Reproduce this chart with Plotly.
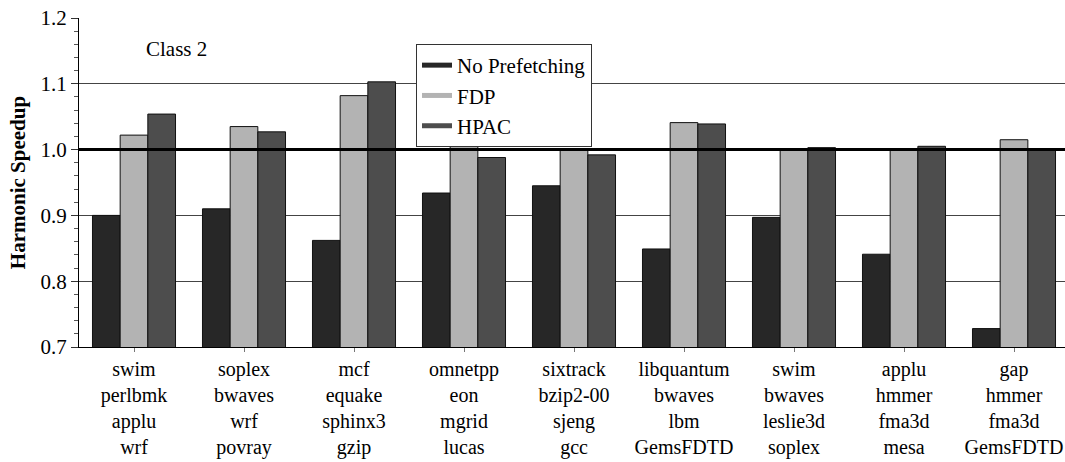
import plotly.graph_objects as go

# Workload mixes (four benchmarks per mix)
mixes = [
    "swim<br>perlbmk<br>applu<br>wrf",
    "soplex<br>bwaves<br>wrf<br>povray",
    "mcf<br>equake<br>sphinx3<br>gzip",
    "omnetpp<br>eon<br>mgrid<br>lucas",
    "sixtrack<br>bzip2-00<br>sjeng<br>gcc",
    "libquantum<br>bwaves<br>lbm<br>GemsFDTD",
    "swim<br>bwaves<br>leslie3d<br>soplex",
    "applu<br>hmmer<br>fma3d<br>mesa",
    "gap<br>hmmer<br>fma3d<br>GemsFDTD",
]

# Harmonic speedup per configuration
no_prefetching = [0.900, 0.910, 0.862, 0.934, 0.945, 0.849, 0.897, 0.841, 0.728]
fdp = [1.022, 1.035, 1.082, 1.012, 1.000, 1.041, 1.000, 1.000, 1.015]
hpac = [1.054, 1.027, 1.103, 0.988, 0.992, 1.039, 1.003, 1.005, 1.000]

y_ticks = [0.7, 0.8, 0.9, 1.0, 1.1, 1.2]

series = [
    ("No Prefetching", no_prefetching, "#272727"),
    ("FDP", fdp, "#b3b3b3"),
    ("HPAC", hpac, "#4d4d4d"),
]

FONT = "Liberation Serif, Times New Roman, serif"

fig = go.Figure()
x_idx = list(range(len(mixes)))
for name, vals, color in series:
    fig.add_trace(go.Bar(
        x=x_idx, y=vals, name=name, showlegend=False,
        marker=dict(color=color, line=dict(color="#111111", width=1)),
    ))

# Legend entries drawn as short thick strokes
for name, vals, color in series:
    fig.add_trace(go.Scatter(
        x=[None], y=[None], mode="lines", name=name,
        line=dict(color=color, width=5),
    ))

fig.update_layout(
    width=1065, height=462,
    margin=dict(l=79, r=0, t=18, b=115),
    paper_bgcolor="white", plot_bgcolor="white",
    font=dict(family=FONT, size=20, color="black"),
    barmode="group", bargap=0.245, bargroupgap=0,
    legend=dict(
        x=0.3418, y=0.921, xanchor="left", yanchor="top",
        bordercolor="#333333", borderwidth=1, bgcolor="white",
        font=dict(family=FONT, size=21, color="black"),
        tracegroupgap=0, itemwidth=30,
    ),
    xaxis=dict(
        range=[-0.5, 8.4636],
        tickmode="array", tickvals=x_idx, ticktext=mixes,
        ticks="outside", ticklen=4, tickcolor="#777777",
        showline=True, linecolor="black", linewidth=1,
        showgrid=False, zeroline=False,
        tickfont=dict(family=FONT, size=20, color="black"),
    ),
    yaxis=dict(
        range=[0.7, 1.2],
        tickmode="array", tickvals=y_ticks,
        ticktext=[f"{v:.1f}" for v in y_ticks],
        ticks="outside", ticklen=7, tickcolor="#333333",
        minor=dict(dtick=0.02, ticks="outside", ticklen=4, tickcolor="#555555",
                   showgrid=False),
        showline=True, linecolor="black", linewidth=1,
        showgrid=True, gridcolor="#444444", gridwidth=1,
        zeroline=False,
        tickfont=dict(family=FONT, size=21, color="black"),
        title=dict(text="<b>Harmonic Speedup</b>", standoff=9,
                   font=dict(family=FONT, size=21, color="black")),
    ),
    shapes=[dict(
        type="line", xref="paper", yref="y", x0=0, x1=1, y0=1.0, y1=1.0,
        line=dict(color="black", width=3), layer="above",
    )],
    annotations=[dict(
        text="Class 2", xref="x", yref="y", x=0.39, y=1.153,
        showarrow=False, font=dict(family=FONT, size=21, color="black"),
    )],
)

fig.write_html("out.html")
